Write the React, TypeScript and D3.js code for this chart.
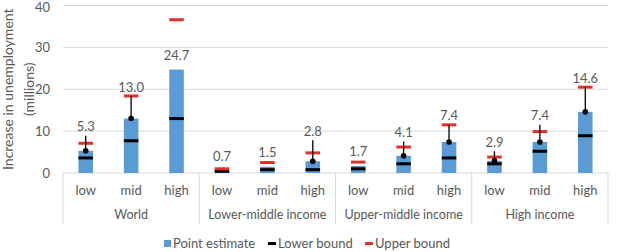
import React from 'react'
import * as d3 from 'd3'

const groups = ['World', 'Lower-middle income', 'Upper-middle income', 'High income']
const levels = ['low', 'mid', 'high']
const pointEstimate = [5.3, 13.0, 24.7, 0.7, 1.5, 2.8, 1.7, 4.1, 7.4, 2.9, 7.4, 14.6]
const lowerBound = [3.6, 7.7, 13.0, 0.4, 0.8, 0.8, 1.0, 2.2, 3.6, 2.2, 5.2, 8.9]
const upperBound = [7.1, 18.4, 36.6, 1.0, 2.5, 4.8, 2.6, 6.2, 11.5, 3.8, 9.9, 20.5]
const whiskerTop = [8.9, 18.4, null, null, null, 7.8, null, 7.5, 11.5, 5.2, 11.5, 20.5]
const yTicks = [0, 10, 20, 30, 40]

const W = 627
const H = 252
const left = 63
const right = 608
const top = 5.5
const bottom = 173

const BLUE = '#5b9bd5'
const RED = '#e0312b'
const GRID = '#d9d9d9'
const TEXT = '#595959'
const FONT = 'Lato, "Open Sans", sans-serif'

const App = () => {
  const keys = groups.flatMap(g => levels.map(l => `${g}|${l}`))

  const x = d3.scaleBand().domain(keys).range([left, right]).paddingInner(0.68).paddingOuter(0.34)
  const xGroup = d3.scaleBand().domain(groups).range([left, right])
  const y = d3.scaleLinear().domain([0, 40]).range([bottom, top])

  const bw = x.bandwidth()

  return (
    <svg width={W} height={H} style={{ position: 'absolute', left: 0, top: 0, background: '#fff' }} fontFamily={FONT}>
      {/* gridlines + y tick labels */}
      {yTicks.map(t => (
        <g key={t}>
          <line x1={left} x2={right} y1={y(t)} y2={y(t)} stroke={GRID} strokeWidth={1} />
          <text x={50} y={Math.max(y(t), 7)} dy="0.35em" textAnchor="end" fontSize={13} fill={TEXT}>{t}</text>
        </g>
      ))}

      {/* group separators of the category axis */}
      {[...groups.map(g => xGroup(g)!), right].map((gx, i) => (
        <line key={i} x1={gx} x2={gx} y1={bottom} y2={224} stroke={GRID} strokeWidth={1} />
      ))}

      {/* bars */}
      {keys.map((k, i) => (
        <rect key={k} x={x(k)} y={y(pointEstimate[i])} width={bw} height={y(0) - y(pointEstimate[i])} fill={BLUE} />
      ))}

      {/* lower / upper bound markers */}
      {keys.map((k, i) => (
        <rect key={'lo' + k} x={x(k)} y={y(lowerBound[i]) - 1.5} width={bw} height={3} fill="#000" />
      ))}
      {keys.map((k, i) => (
        <rect key={'up' + k} x={x(k)} y={y(upperBound[i]) - 1.5} width={bw} height={3} fill={RED} />
      ))}

      {/* whiskers with dots */}
      {keys.map((k, i) => {
        const wt = whiskerTop[i]
        if (wt == null) return null
        const cx = x(k)! + bw / 2
        return (
          <g key={'w' + k}>
            <line x1={cx} x2={cx} y1={y(pointEstimate[i])} y2={y(wt)} stroke="#000" strokeWidth={1.3} />
            <circle cx={cx} cy={y(pointEstimate[i])} r={2.8} fill="#000" />
          </g>
        )
      })}

      {/* value labels */}
      {keys.map((k, i) => {
        const wt = whiskerTop[i]
        const anchor = wt != null ? y(wt) : y(pointEstimate[i]) - 5
        return (
          <text key={'v' + k} x={x(k)! + bw / 2} y={anchor - 9} dy="0.35em" textAnchor="middle" fontSize={13} fill={TEXT}>
            {pointEstimate[i].toFixed(1)}
          </text>
        )
      })}

      {/* category labels */}
      {keys.map(k => (
        <text key={'c' + k} x={x(k)! + bw / 2} y={190} dy="0.35em" textAnchor="middle" fontSize={13} fill={TEXT}>
          {k.split('|')[1]}
        </text>
      ))}
      {groups.map(g => (
        <text key={'g' + g} x={xGroup(g)! + xGroup.bandwidth() / 2} y={215} dy="0.35em" textAnchor="middle" fontSize={12.5} fill={TEXT}>
          {g}
        </text>
      ))}

      {/* axis title */}
      <text transform={`translate(8,${(top + bottom) / 2}) rotate(-90)`} dy="0.35em" textAnchor="middle" fontSize={14} fill={TEXT}>
        Increase in unemployment
      </text>
      <text transform={`translate(29,${(top + bottom) / 2}) rotate(-90)`} dy="0.35em" textAnchor="middle" fontSize={14} fill={TEXT}>
        (millions)
      </text>

      {/* legend */}
      <g fontSize={13} fill={TEXT}>
        <rect x={164} y={240} width={7} height={7} fill={BLUE} />
        <text x={173} y={243.5} dy="0.35em">Point estimate</text>
        <rect x={268} y={242} width={8} height={3} fill="#000" />
        <text x={278} y={243.5} dy="0.35em">Lower bound</text>
        <rect x={365} y={242} width={8} height={3} fill={RED} />
        <text x={375} y={243.5} dy="0.35em">Upper bound</text>
      </g>
    </svg>
  )
}

export default App
